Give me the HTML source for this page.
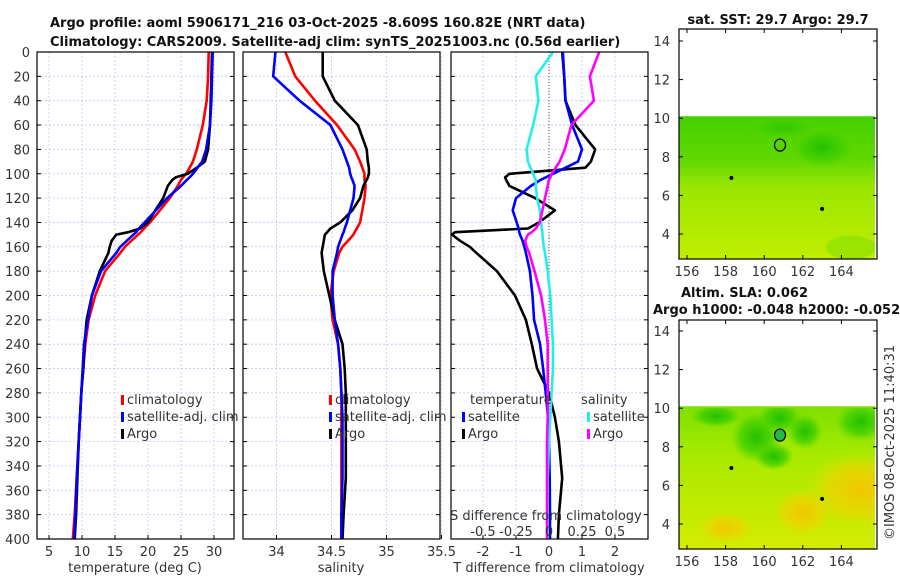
<!DOCTYPE html>
<html><head><meta charset="utf-8">
<style>
html,body{margin:0;padding:0;background:#fff;}
svg{display:block;font-family:"DejaVu Sans","Liberation Sans",sans-serif;}
.tk{font-size:13px;fill:#333;}
.tt{font-size:13px;font-weight:bold;fill:#111;}
</style></head>
<body>
<svg id="c" width="900" height="580" viewBox="0 0 900 580">
<defs>
<linearGradient id="sstg" x1="0" y1="0" x2="0" y2="1">
<stop offset="0" stop-color="#44d000"/><stop offset="0.3" stop-color="#60d800"/><stop offset="0.5" stop-color="#9ae600"/><stop offset="1" stop-color="#c0ee00"/></linearGradient>
<linearGradient id="slag" x1="0" y1="0" x2="0" y2="1">
<stop offset="0" stop-color="#7ee000"/><stop offset="0.35" stop-color="#a8ea00"/><stop offset="1" stop-color="#d4ec00"/></linearGradient>
<radialGradient id="grn"><stop offset="0" stop-color="#22c000"/><stop offset="0.6" stop-color="#44d000" stop-opacity="0.8"/><stop offset="1" stop-color="#66d800" stop-opacity="0"/></radialGradient>
<radialGradient id="org"><stop offset="0" stop-color="#f2c600"/><stop offset="0.6" stop-color="#eed400" stop-opacity="0.7"/><stop offset="1" stop-color="#e0e000" stop-opacity="0"/></radialGradient>
<clipPath id="m1c"><rect x="679" y="117" width="196" height="142"/></clipPath>
<clipPath id="m2c"><rect x="679" y="408" width="196" height="140"/></clipPath>
</defs>
<text class="tt" x="50" y="27">Argo profile: aoml 5906171_216 03-Oct-2025 -8.609S 160.82E (NRT data)</text>
<text class="tt" x="50" y="46">Climatology: CARS2009. Satellite-adj clim: synTS_20251003.nc (0.56d earlier)</text>
<g id="g"></g>
<text class="tt" x="778" y="24" text-anchor="middle">sat. SST: 29.7 Argo: 29.7</text>
<text class="tt" x="681" y="297">Altim. SLA: 0.062</text>
<text class="tt" x="653" y="314">Argo h1000: -0.048 h2000: -0.052</text>
<text class="tk" transform="translate(894,540) rotate(-90)">©IMOS 08-Oct-2025 11:40:31</text>
</svg>
<script>
// depth grid shared by all profiles
const depths=[0,20,40,60,80,90,95,100,103,105,110,120,130,140,145,148,150,155,160,165,180,200,220,240,260,280,300,320,350,380,400];
const tempClim=[29.2,29.1,28.9,28.3,27.4,26.8,26.3,25.8,25.3,25.0,24.5,23.3,21.8,20.3,19.4,18.9,18.5,17.5,16.5,15.8,13.5,12.0,11.0,10.5,10.2,9.9,9.7,9.5,9.2,8.9,8.6];
const tempSat=[29.8,29.7,29.6,29.4,28.8,28.2,27.5,26.8,26.3,25.9,25.0,22.9,21.2,19.5,18.6,18.2,17.8,16.8,15.8,15.2,12.9,11.5,10.9,10.3,10.1,9.9,9.7,9.5,9.2,9.0,8.8];
const tempArgo=[29.7,29.6,29.5,29.4,29.1,28.6,27.4,26.0,24.2,23.7,23.0,22.3,21.1,20.0,18.8,17.0,15.2,14.5,14.2,14.0,12.7,11.5,10.7,10.4,10.2,9.9,9.7,9.5,9.3,9.1,8.9];
const salClim=[34.08,34.17,34.35,34.55,34.71,34.76,34.78,34.80,34.80,34.80,34.81,34.80,34.78,34.76,34.73,34.71,34.70,34.65,34.60,34.57,34.52,34.49,34.51,34.56,34.58,34.59,34.59,34.59,34.59,34.59,34.59];
const salSat=[33.99,33.97,34.21,34.49,34.60,34.64,34.66,34.67,34.68,34.69,34.71,34.70,34.67,34.64,34.62,34.61,34.60,34.58,34.56,34.55,34.51,34.51,34.53,34.56,34.58,34.59,34.60,34.60,34.60,34.59,34.59];
const salArgo=[34.42,34.42,34.53,34.74,34.82,34.83,34.84,34.84,34.83,34.82,34.79,34.76,34.69,34.58,34.49,34.46,34.44,34.43,34.42,34.41,34.43,34.48,34.53,34.60,34.62,34.63,34.63,34.63,34.63,34.61,34.60];
const dTSat=[0.42,0.46,0.50,0.70,1.00,0.88,0.50,0.12,-0.10,-0.25,-0.55,-1.0,-1.1,-0.98,-0.92,-0.90,-0.88,-0.80,-0.75,-0.70,-0.58,-0.50,-0.45,-0.27,-0.18,-0.10,-0.03,0.0,0.02,0.03,0.03];
const dTArgo=[0.40,0.46,0.50,0.80,1.40,1.27,1.10,-1.20,-1.33,-1.30,-1.20,-0.42,0.18,-0.30,-0.64,-2.85,-2.94,-2.70,-2.40,-2.20,-1.58,-1.03,-0.70,-0.52,-0.36,0.0,0.18,0.30,0.40,0.30,0.27];
const dSSat=[0.03,-0.10,-0.08,-0.12,-0.17,-0.16,-0.14,-0.12,-0.11,-0.10,-0.10,-0.09,-0.07,-0.06,-0.055,-0.05,-0.05,-0.045,-0.04,-0.03,-0.01,0.01,0.02,0.03,0.03,0.02,0.01,0.0,-0.01,-0.01,-0.01];
const dSArgo=[0.38,0.31,0.34,0.17,0.12,0.08,0.05,0.02,0.01,0.0,-0.01,-0.03,-0.05,-0.07,-0.10,-0.13,-0.16,-0.18,-0.17,-0.15,-0.11,-0.06,-0.03,-0.01,-0.01,-0.01,-0.01,-0.015,-0.015,-0.015,-0.015];
const depthTicks=[0,20,40,60,80,100,120,140,160,180,200,220,240,260,280,300,320,340,360,380,400];
const tempTicks=[5,10,15,20,25,30];
const salTicks=[34,34.5,35,35.5];
const salTickLabels=["34","34.5","35","35.5"];
const dTTicks=[-2,-1,0,1,2];
const dSTicks=[-0.5,-0.25,0,0.25,0.5];
const dSTickLabels=["-0.5","-0.25","0","0.25","0.5"];
const latTicks=[4,6,8,10,12,14];
const lonTicks=[156,158,160,162,164];

const NS='http://www.w3.org/2000/svg';
const G=document.getElementById('g');
function mk(t,a,p){const e=document.createElementNS(NS,t);for(const k in a)e.setAttribute(k,a[k]);(p||G).appendChild(e);return e;}
const top0=52,bot=539;
const yD=d=>top0+(bot-top0)*d/400;
const xT=v=>49+(v-5)*6.6;
const xS=v=>276.5+(v-34)*110;
const xDT=v=>549+v*33;
const xDS=v=>549+v*132;
const panels=[{x0:37,x1:234,n:'temperature'},{x0:243,x1:440,n:'salinity'},{x0:451,x1:648,n:'difference'}];

function panel(p,ticks,sx,labels){
  depthTicks.forEach(d=>{const l=mk('line',{x1:p.x0,x2:p.x1,y1:yD(d),y2:yD(d),stroke:'#c4c8e8','stroke-width':0.8,'stroke-dasharray':'2,2'});
    
    });
  ticks.forEach((t,i)=>{const l=mk('line',{x1:sx(t),x2:sx(t),y1:top0,y2:bot,stroke:'#c4c8e8','stroke-width':0.8,'stroke-dasharray':'2,2'});
    
    
    const tl=mk('line',{x1:sx(t),x2:sx(t),y1:bot,y2:bot-4,stroke:'#000'});
    
    
    if(labels){const tx=mk('text',{x:sx(t),y:556,'text-anchor':'middle',class:'tk'});tx.textContent=labels[i];
      
      }
  });
  depthTicks.forEach(d=>{[p.x0,p.x1].forEach((x,j)=>{const l=mk('line',{x1:x,x2:x+(j?-4:4),y1:yD(d),y2:yD(d),stroke:'#000'});
    
    });});
}
function frame(p){const r=mk('rect',{x:p.x0,y:top0,width:p.x1-p.x0,height:bot-top0,fill:'none',stroke:'#000','stroke-width':1.2});
  
  }
function line(vals,sx,col,name,w){
  const pts=vals.map((v,i)=>sx(v).toFixed(1)+','+yD(depths[i]).toFixed(1)).join(' ');
  const l=mk('polyline',{points:pts,fill:'none',stroke:col,'stroke-width':w||2.6,'stroke-linejoin':'round'});
  
  
}
function text(x,y,s,name,anchor,cls){const t=mk('text',{x:x,y:y,class:cls||'tk','text-anchor':anchor||'start'});t.textContent=s;
  
  return t;}
function legend(x,y,col,s,name){const r=mk('rect',{x:x,y:y-9,width:3,height:10,fill:col});
  
  
  text(x+6,y,s,name);}

panel(panels[0],tempTicks,xT,tempTicks.map(String));
depthTicks.forEach(d=>text(30,yD(d)+5,String(d),'y-tick-label','end'));
line(tempClim,xT,'#f00','temp-climatology-line');
line(tempArgo,xT,'#000','temp-argo-line');
line(tempSat,xT,'#0000ff','temp-satellite-line');
frame(panels[0]);
legend(121,404,'#f00','climatology','legend-climatology');
legend(121,421,'#00f','satellite-adj. clim','legend-satellite');
legend(121,438,'#000','Argo','legend-argo');
text(135,572,'temperature (deg C)','temperature-axis-title','middle');

const p3=panels[2];
panel(panels[1],salTicks,xS,salTickLabels);
line(salClim,xS,'#f00','sal-climatology-line');
line(salArgo,xS,'#000','sal-argo-line');
line(salSat,xS,'#0000ff','sal-satellite-line');
frame(panels[1]);
legend(329,404,'#f00','climatology','legend-climatology-2');
legend(329,421,'#00f','satellite-adj. clim','legend-satellite-2');
legend(329,438,'#000','Argo','legend-argo-2');
text(341,572,'salinity','salinity-axis-title','middle');

mk('rect',{x:p3.x0,y:top0,width:p3.x1-p3.x0,height:bot-top0,fill:'#fff'});
panel(p3,dTTicks,xDT,["-2","-1","0","1","2"]);
const zl=mk('line',{x1:xDT(0),x2:xDT(0),y1:top0,y2:bot,stroke:'#555','stroke-width':1,'stroke-dasharray':'1,2'});


line(dTArgo,xDT,'#000','dT-argo-line');
line(dTSat,xDT,'#0000ff','dT-satellite-line');
line(dSSat,xDS,'#22eeee','dS-satellite-line');
line(dSArgo,xDS,'#ff00ff','dS-argo-line');
frame(p3);
text(470,404,'temperature','legend-temperature-header');
text(581,404,'salinity','legend-salinity-header');
legend(462,421,'#00f','satellite','legend-t-satellite');
legend(462,438,'#000','Argo','legend-t-argo');
legend(587,421,'#22eeee','satellite','legend-s-satellite');
legend(587,438,'#ff00ff','Argo','legend-s-argo');
text(450,520,'S difference from climatology','s-diff-axis-title');
dSTicks.forEach((t,i)=>text(xDS(t),536,dSTickLabels[i],'s-diff-tick-label','middle'));
text(549,572,'T difference from climatology','t-diff-axis-title','middle');

const xL=v=>687+(v-156)*19.3;
function map(y14,top,bottom,clip,fill,name,extra){
  const yLat=v=>y14+(14-v)*19.3;
  const dt=yLat(10.1);
  const r=mk('rect',{x:679,y:dt,width:196,height:bottom-dt,fill:fill});
  
  
  extra(yLat);
  latTicks.forEach(v=>{text(670,yLat(v)+5,String(v),name+'-lat-label','end');
    [679,877].forEach((x,j)=>{const l=mk('line',{x1:x,x2:x+(j?-4:4),y1:yLat(v),y2:yLat(v),stroke:'#000'});
    
    });});
  lonTicks.forEach(v=>{text(xL(v),bottom+17,String(v),name+'-lon-label','middle');
    [top,bottom].forEach((y,j)=>{const l=mk('line',{x1:xL(v),x2:xL(v),y1:y,y2:y+(j?-4:4),stroke:'#000'});
    
    });});
  const f=mk('rect',{x:679,y:top,width:198,height:bottom-top,fill:'none',stroke:'#000','stroke-width':1.2});
  
  
  const c=mk('ellipse',{cx:xL(160.82),cy:yLat(8.609),rx:5.5,ry:6,fill:name==='sla-map'?'#22bb44':'none',stroke:'#000','stroke-width':1.2});
  
  
  [[158.3,6.9],[163,5.3]].forEach(q=>{const d=mk('circle',{cx:xL(q[0]),cy:yLat(q[1]),r:2,fill:'#000'});
    
    });
}
map(41,29,259,'m1c','url(#sstg)','sst-map',function(yLat){
  const g=mk('g',{'clip-path':'url(#m1c)'});
  mk('ellipse',{cx:xL(163),cy:yLat(8.5),rx:35,ry:22,fill:'url(#grn)'},g);
  mk('ellipse',{cx:xL(161),cy:yLat(9.5),rx:40,ry:12,fill:'url(#grn)',opacity:0.6},g);
  mk('ellipse',{cx:xL(164.5),cy:yLat(3.3),rx:25,ry:12,fill:'#8ee000',opacity:0.7},g);
});
map(331,320,549,'m2c','url(#slag)','sla-map',function(yLat){
  const g=mk('g',{'clip-path':'url(#m2c)'});
  [[159.6,8.5,26,26],[160.8,9.5,22,16],[162.1,8.8,18,18],[165,9.3,26,20],[157.5,9.6,26,12],[160.5,7.5,20,14]].forEach(b=>mk('ellipse',{cx:xL(b[0]),cy:yLat(b[1]),rx:b[2],ry:b[3],fill:'url(#grn)'},g));
  [[165,5.8,55,38],[162,4.6,30,24],[158,3.8,28,16]].forEach(b=>mk('ellipse',{cx:xL(b[0]),cy:yLat(b[1]),rx:b[2],ry:b[3],fill:'url(#org)'},g));
});
</script>
</body></html>
